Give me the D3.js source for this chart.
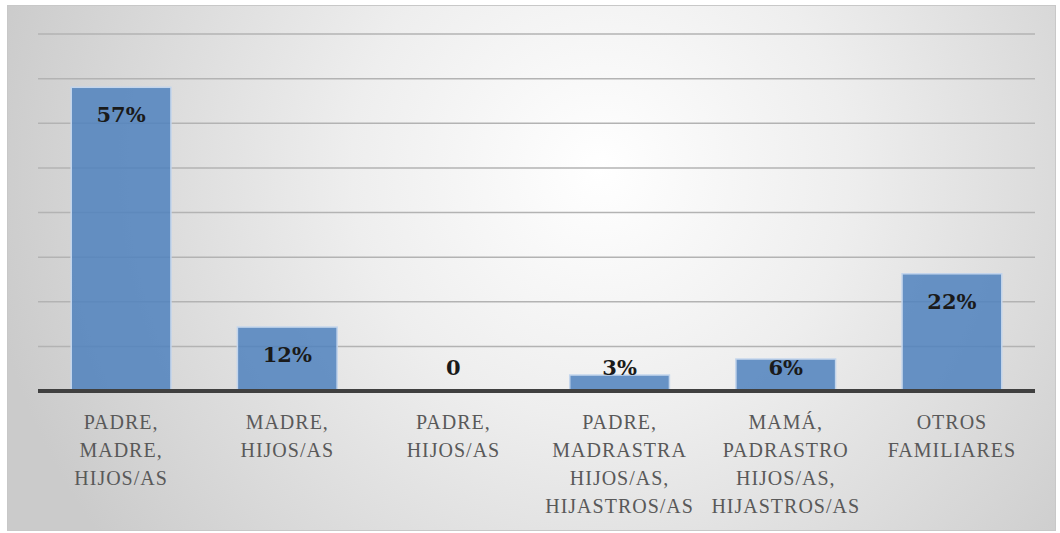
<!DOCTYPE html>
<html lang="es">
<head>
  <meta charset="UTF-8">
  <title>Tipos de familia</title>
  <script src="https://d3js.org/d3.v7.min.js"></script>
  <style>
    html, body { margin: 0; padding: 0; background: #fff; }
    .value-label { font-family: "DejaVu Serif", serif; font-weight: bold; font-size: 21px; fill: #1a1a1a; }
    .cat-label { font-family: "Liberation Serif", serif; font-size: 20px; fill: #595959; letter-spacing: 1px; }
  </style>
</head>
<body>
  <div id="chart"></div>
  <script>
    // data
    const categories = [
      ["PADRE,", "MADRE,", "HIJOS/AS"],
      ["MADRE,", "HIJOS/AS"],
      ["PADRE,", "HIJOS/AS"],
      ["PADRE,", "MADRASTRA", "HIJOS/AS,", "HIJASTROS/AS"],
      ["MAMÁ,", "PADRASTRO", "HIJOS/AS,", "HIJASTROS/AS"],
      ["OTROS", "FAMILIARES"]
    ];
    const values = [57, 12, 0, 3, 6, 22];
    const valueLabels = ["57%", "12%", "0", "3%", "6%", "22%"];
    const yMax = 67;
    const gridCount = 8;

    const width = 1060, height = 533;
    const plot = { left: 38, right: 1035, top: 34, bottom: 391 };

    const svg = d3.select("#chart").append("svg")
      .attr("width", width)
      .attr("height", height);

    const defs = svg.append("defs");
    const grad = defs.append("radialGradient")
      .attr("id", "bg")
      .attr("gradientUnits", "userSpaceOnUse")
      .attr("cx", 600).attr("cy", 170).attr("r", 620);
    grad.append("stop").attr("offset", "0%").attr("stop-color", "#ffffff");
    grad.append("stop").attr("offset", "40%").attr("stop-color", "#eeeeee");
    grad.append("stop").attr("offset", "100%").attr("stop-color", "#cbcbcb");

    svg.append("rect")
      .attr("x", 7.5).attr("y", 5.5)
      .attr("width", 1048).attr("height", 525)
      .attr("fill", "url(#bg)")
      .attr("stroke", "#c8c8c8")
      .attr("stroke-width", 1);

    const x = d3.scaleBand()
      .domain(d3.range(values.length))
      .range([plot.left, plot.right])
      .paddingInner(0.4)
      .paddingOuter(0.2);

    const y = d3.scaleLinear()
      .domain([0, yMax])
      .range([plot.bottom, plot.top]);

    // gridlines
    const gridVals = d3.range(1, gridCount + 1).map(i => i * yMax / gridCount);
    svg.append("g")
      .selectAll("line")
      .data(gridVals)
      .join("line")
      .attr("x1", plot.left)
      .attr("x2", plot.right)
      .attr("y1", d => y(d))
      .attr("y2", d => y(d))
      .attr("stroke", "#b3b3b3")
      .attr("stroke-width", 1.5);

    // bars
    svg.append("g")
      .selectAll("rect")
      .data(values)
      .join("rect")
      .attr("x", (d, i) => x(i))
      .attr("y", d => y(d))
      .attr("width", x.bandwidth())
      .attr("height", d => y(0) - y(d))
      .attr("fill", "#4f81bd")
      .attr("fill-opacity", 0.85)
      .attr("stroke", "#c3d5ec")
      .attr("stroke-width", 1.5);

    // baseline
    svg.append("line")
      .attr("x1", plot.left)
      .attr("x2", plot.right)
      .attr("y1", y(0))
      .attr("y2", y(0))
      .attr("stroke", "#404040")
      .attr("stroke-width", 4);

    // value labels
    svg.append("g")
      .selectAll("text")
      .data(values)
      .join("text")
      .attr("class", "value-label")
      .attr("x", (d, i) => x(i) + x.bandwidth() / 2)
      .attr("y", d => Math.min(y(d) + 35, y(0) - 16))
      .attr("text-anchor", "middle")
      .text((d, i) => valueLabels[i]);

    // category labels
    const cat = svg.append("g")
      .selectAll("text")
      .data(categories)
      .join("text")
      .attr("class", "cat-label")
      .attr("text-anchor", "middle")
      .attr("x", (d, i) => x(i) + x.bandwidth() / 2)
      .attr("y", 429);

    cat.selectAll("tspan")
      .data(d => d)
      .join("tspan")
      .attr("x", function () { return d3.select(this.parentNode).attr("x"); })
      .attr("dy", (d, j) => j === 0 ? 0 : 28)
      .text(d => d);
  </script>
</body>
</html>
